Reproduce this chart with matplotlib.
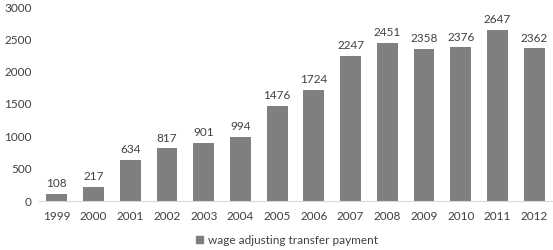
import matplotlib
matplotlib.use("Agg")
import matplotlib.pyplot as plt
from matplotlib.patches import Patch

years = ["1999", "2000", "2001", "2002", "2003", "2004", "2005", "2006",
         "2007", "2008", "2009", "2010", "2011", "2012"]
values = [108, 217, 634, 817, 901, 994, 1476, 1724, 2247, 2451, 2358, 2376, 2647, 2362]
series_name = "wage adjusting transfer payment"
yticks = [0, 500, 1000, 1500, 2000, 2500, 3000]

plt.rcParams['font.family'] = ['Lato', 'DejaVu Sans']
W, H = 553, 250
fig = plt.figure(figsize=(W/100, H/100), dpi=100)
ax = fig.add_axes([38.5/W, 1 - 201/H, (552.5-38.5)/W, (201-7)/H])

bar_color = "#7f7f7f"
txt_color = "#404040"
fs = 8.5
x = list(range(len(years)))
ax.bar(x, values, width=0.57, color=bar_color, zorder=2)
for xi, v in zip(x, values):
    ax.text(xi, v + 70, str(v), ha="center", va="bottom", fontsize=fs, color=txt_color)

ax.set_xlim(-0.5, len(years) - 0.5)
ax.set_ylim(0, 3000)
ax.set_yticks(yticks)
ax.set_yticklabels([str(t) for t in yticks])
ax.set_xticks(x)
ax.set_xticklabels(years)
ax.tick_params(axis='both', length=0, labelsize=fs, colors=txt_color)
ax.tick_params(axis='x', pad=7)
ax.tick_params(axis='y', pad=5)
for s in ["top", "right", "left"]:
    ax.spines[s].set_visible(False)
ax.spines["bottom"].set_color("#d9d9d9")
ax.spines["bottom"].set_linewidth(0.8)

fig.legend(handles=[Patch(color=bar_color, label=series_name)],
           loc="center", bbox_to_anchor=(287/W, 1 - 240/H), frameon=False,
           fontsize=fs, handlelength=0.6, handleheight=0.6, handletextpad=0.4,
           labelcolor=txt_color)

fig.savefig("out.png", dpi=100)
